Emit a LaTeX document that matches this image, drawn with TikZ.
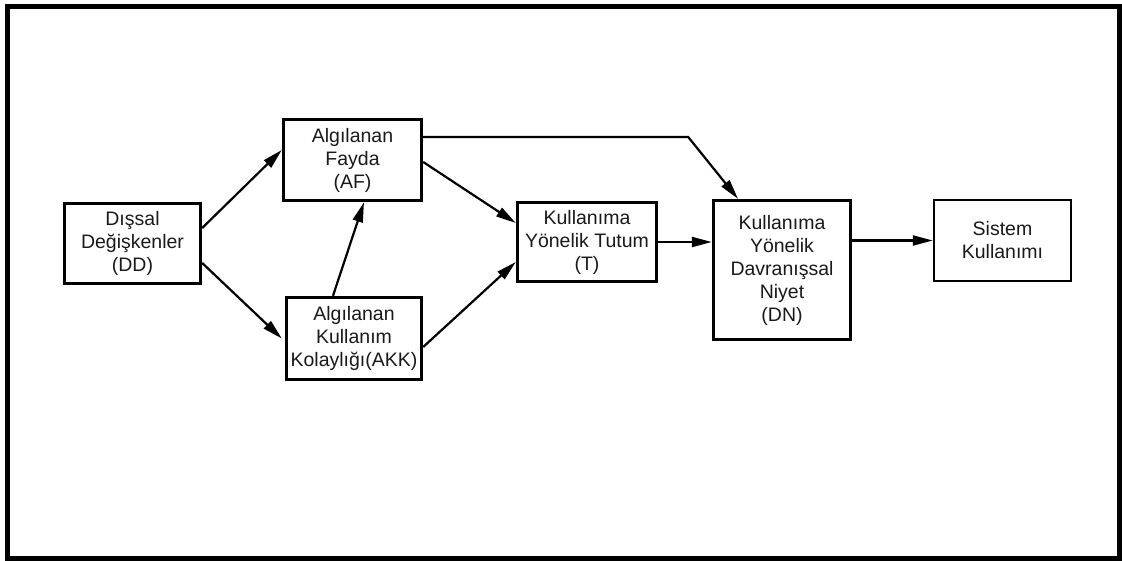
\documentclass[tikz,border=0pt]{standalone}
\usepackage{fontspec}
\setmainfont{Liberation Sans}
\usetikzlibrary{arrows.meta}
\tikzset{
  box/.style={draw=black, line width=3.4pt, rectangle, inner sep=0pt, align=center,
    font=\fontsize{19.5}{23}\selectfont, text=black!90},
  lightbox/.style={box, line width=2.4pt},
  link/.style={line width=2.2pt, -{Triangle[length=20pt,width=10pt]}},
}
\begin{document}
\begin{tikzpicture}[x=1pt, y=-1pt]
  \useasboundingbox (0,0) rectangle (1122,561);
  % outer frame
  \draw[line width=5pt] (7.5,7) rectangle (1119.5,558.5);

  % boxes
  \node[box, minimum width=136pt, minimum height=80pt] (DD) at (132.5,243.5)
    {Dışsal\\Değişkenler\\(DD)};
  \node[box, minimum width=138pt, minimum height=81pt] (AF) at (352.5,160)
    {Algılanan\\Fayda\\(AF)};
  \node[box, minimum width=135pt, minimum height=82pt] (AKK) at (354,338.5)
    {Algılanan\\Kullanım\\Kolaylığı(AKK)};
  \node[box, minimum width=139pt, minimum height=79pt] (T) at (587,242)
    {Kullanıma\\Yönelik Tutum\\(T)};
  \node[box, minimum width=137pt, minimum height=139pt] (DN) at (782,270)
    {Kullanıma\\Yönelik\\Davranışsal\\Niyet\\(DN)};
  \node[lightbox, minimum width=137pt, minimum height=81pt] (SK) at (1002.5,240.5)
    {Sistem\\Kullanımı};

  % connectors
  \draw[link] ([yshift=15.5pt]DD.east) -- ([yshift=10pt]AF.west);
  \draw[link] ([yshift=-19.5pt]DD.east) -- ([xshift=-3pt]AKK.west);
  \draw[link] ([xshift=-21pt]AKK.north) -- ([xshift=11.5pt]AF.south);
  \draw[link] ([yshift=-2pt]AF.east) -- ([yshift=19pt]T.west);
  \draw[link] ([yshift=-8.5pt]AKK.east) -- ([yshift=-20pt]T.west);
  \coordinate (bend) at ([xshift=265pt, yshift=23pt]AF.east);
  \draw[link] ([yshift=23pt]AF.east) -- (bend) -- ([xshift=-44pt]DN.north);
  \draw[link] (T.east) -- (T.east -| DN.west);
  \draw[link] (SK.west -| DN.east) -- (SK.west);
\end{tikzpicture}
\end{document}
